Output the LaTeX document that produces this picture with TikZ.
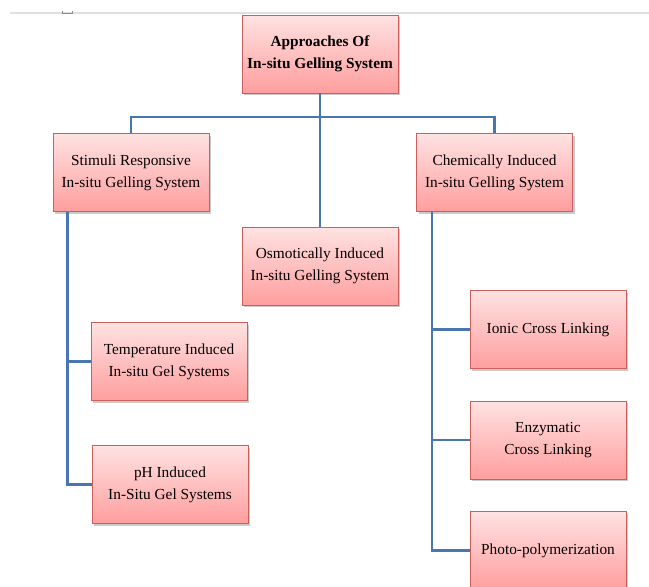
\documentclass[tikz,border=0pt]{standalone}
\usepackage{fontspec}
\setmainfont{Liberation Serif}
\usetikzlibrary{calc,shadows}
\definecolor{boxred}{HTML}{CC5E5B}
\definecolor{boxtop}{HTML}{FFE2E2}
\definecolor{boxbot}{HTML}{FF9E9E}
\definecolor{linkblue}{HTML}{4A76B0}
\tikzset{
gelbox/.style={draw=boxred,line width=0.6pt,top color=boxtop,bottom color=boxbot,
  minimum width=117pt,minimum height=58.5pt,align=center,
  font=\fontsize{11.5}{16.5}\selectfont,
  drop shadow={shadow xshift=1.5pt,shadow yshift=-1.5pt,opacity=0.35,fill=black!60}},
link/.style={draw=linkblue,line width=1.8pt}
}
\begin{document}
\begin{tikzpicture}[x=0.75pt,y=-0.75pt]
\useasboundingbox (0,0) rectangle (649,586);
%\draw[help lines,step=50] (0,0) grid (649,586);
\draw[black!12,line width=1.5pt] (10,13) -- (649,13);
\draw[black!45,line width=0.5pt] (62,11) -- (62,13.7) -- (72,13.7) -- (72,11);
\node[gelbox,font=\fontsize{11.5}{16.5}\selectfont\bfseries] (root) at (320,54) {Approaches Of\\In-situ Gelling System};
\node[gelbox] (stim) at (131,172.5) {Stimuli Responsive\\In-situ Gelling System};
\node[gelbox] (chem) at (494.5,172.5) {Chemically Induced\\In-situ Gelling System};
\node[gelbox] (osm) at (320,266) {Osmotically Induced\\In-situ Gelling System};
\node[gelbox] (temp) at (169,361.5) {Temperature Induced\\In-situ Gel Systems};
\node[gelbox] (ph) at (170,484.5) {pH Induced\\In-Situ Gel Systems};
\foreach \n/\y/\t in {ionic/329.5/{Ionic Cross Linking},enzy/440/{Enzymatic\\Cross Linking},photo/550.5/{Photo-polymerization}}
\node[gelbox] (\n) at (548,\y) {\t};
\coordinate (bar) at (320,117);
\coordinate (stimfoot) at ($(stim.south west)+(15,0)$);
\coordinate (chemfoot) at ($(chem.south west)+(16,0)$);
\draw[link] (root.south) -- (osm.north);
\draw[link] (stim.north) |- (bar) -| (chem.north);
\foreach \n in {temp,ph}
\draw[link] (stimfoot) |- (\n.west);
\foreach \n in {ionic,enzy,photo}
\draw[link] (chemfoot) |- (\n.west);
\end{tikzpicture}
\end{document}
